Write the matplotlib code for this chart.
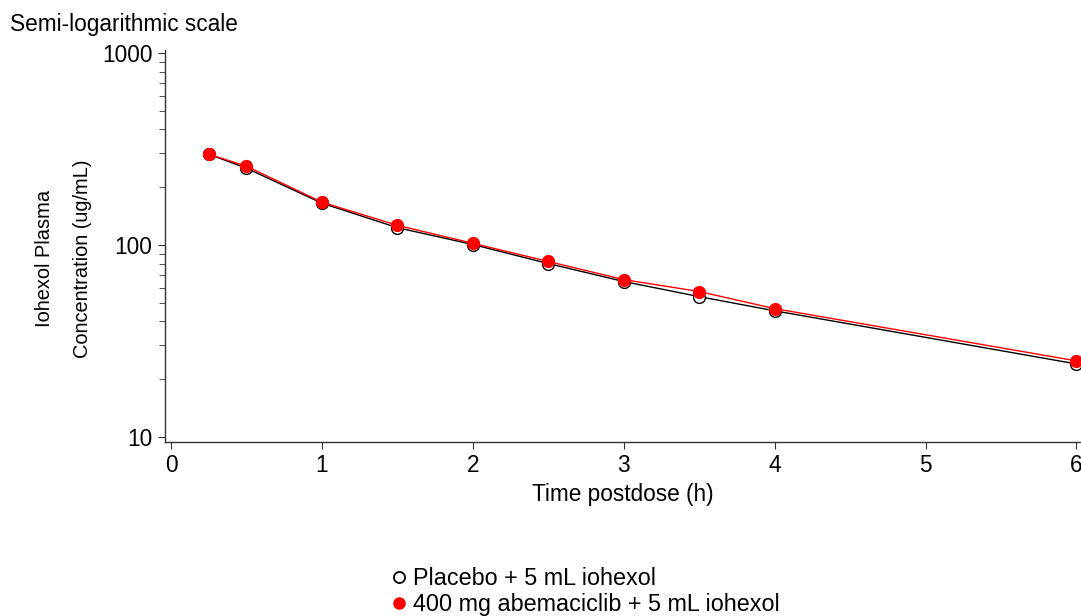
import matplotlib
matplotlib.use("Agg")
import matplotlib.pyplot as plt
from matplotlib.lines import Line2D
from matplotlib.ticker import LogLocator, NullFormatter, FixedLocator

plt.rcParams['font.family'] = ['Liberation Sans', 'DejaVu Sans']

time_h = [0.25, 0.5, 1, 1.5, 2, 2.5, 3, 3.5, 4, 6]
placebo = [297, 251, 165, 123, 100.5, 80, 64.5, 53.8, 45.4, 24.0]
abemaciclib = [297, 257, 167, 126.5, 102, 82, 66, 57.2, 46.6, 24.9]

x_ticks = [0, 1, 2, 3, 4, 5, 6]
y_ticks = [10, 100, 1000]

W, H = 1081, 616
fig = plt.figure(figsize=(W / 100, H / 100), dpi=100)
ax = fig.add_axes([0.1526, 0.283, 0.8474, 0.6355])

ax.plot(time_h, placebo, color='black', lw=1.0, marker='o', ms=8.5,
        mfc='white', mec='black', mew=1.0, zorder=3)
ax.plot(time_h, abemaciclib, color='red', lw=1.0, marker='o', ms=8.5,
        mfc='red', mec='red', zorder=4)

ax.set_yscale('log')
ax.set_ylim(9.45, 1033)
ax.set_xlim(-0.04, 6.03)
ax.xaxis.set_major_locator(FixedLocator(x_ticks))
ax.yaxis.set_major_locator(FixedLocator(y_ticks))
ax.set_yticklabels([str(v) for v in y_ticks])
ax.yaxis.set_minor_locator(LogLocator(base=10, subs=range(2, 10)))
ax.yaxis.set_minor_formatter(NullFormatter())

for s in ['top', 'right']:
    ax.spines[s].set_visible(False)
for s in ['left', 'bottom']:
    ax.spines[s].set_color('#333333')
    ax.spines[s].set_linewidth(1.0)

ax.tick_params(axis='both', which='major', labelsize=16.3, length=5,
               color='#333333', direction='out', pad=4)
ax.tick_params(axis='y', which='minor', length=4, color='#333333')

ax.set_xlabel('Time postdose (h)', fontsize=16.3, labelpad=4)

# two-line y-axis title
fig.text(45 / W, 1 - 258 / H, 'Iohexol Plasma', fontsize=14.4,
         rotation=90, ha='center', va='center')
fig.text(83 / W, 1 - 259 / H, 'Concentration (ug/mL)', fontsize=14.4,
         rotation=90, ha='center', va='center')

fig.text(10 / W, 1 - 25 / H, 'Semi-logarithmic scale', fontsize=16.3,
         ha='left', va='center')

handles = [
    Line2D([], [], ls='none', marker='o', ms=8, mfc='white', mec='black', mew=1.3),
    Line2D([], [], ls='none', marker='o', ms=8, mfc='red', mec='red'),
]
labels = ['Placebo + 5 mL iohexol', '400 mg abemaciclib + 5 mL iohexol']
fig.legend(handles, labels, loc='upper left', bbox_to_anchor=(392 / W, 1 - 567 / H),
           frameon=False, fontsize=16.8, handlelength=0.6, handletextpad=0.3,
           labelspacing=0.12, borderaxespad=0, borderpad=0)

fig.savefig('out.png', dpi=100)
